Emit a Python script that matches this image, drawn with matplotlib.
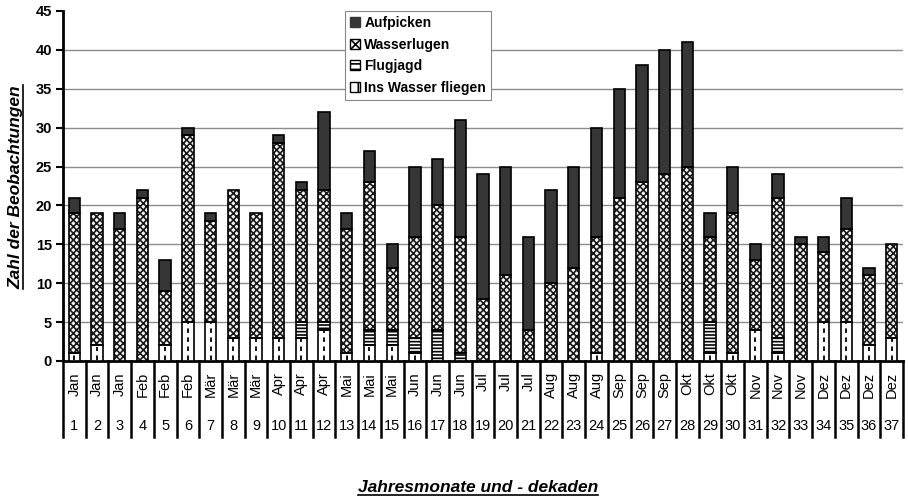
import matplotlib
matplotlib.use("Agg")
import matplotlib.pyplot as plt
import numpy as np
from matplotlib.patches import Patch
from matplotlib.lines import Line2D
from matplotlib.transforms import blended_transform_factory

plt.rcParams['font.family'] = ['Liberation Sans', 'DejaVu Sans']
plt.rcParams['hatch.linewidth'] = 1.2

months = ["Jan", "Jan", "Jan", "Feb", "Feb", "Feb", "Mär", "Mär", "Mär",
          "Apr", "Apr", "Apr", "Mai", "Mai", "Mai", "Jun", "Jun", "Jun",
          "Jul", "Jul", "Jul", "Aug", "Aug", "Aug", "Sep", "Sep", "Sep",
          "Okt", "Okt", "Okt", "Nov", "Nov", "Nov", "Dez", "Dez", "Dez", "Dez"]
dekaden = [str(i) for i in range(1, 38)]

ins_wasser = [1, 2, 0, 0, 2, 5, 5, 3, 3, 3, 3, 4, 1, 2, 2, 1, 0, 0, 0, 0, 0,
              0, 0, 1, 0, 0, 0, 0, 1, 1, 4, 1, 0, 5, 5, 2, 3]
flugjagd = [0, 0, 0, 0, 0, 0, 0, 0, 0, 0, 2, 1, 0, 2, 2, 2, 4, 1, 0, 0, 0,
            0, 0, 0, 0, 0, 0, 0, 4, 0, 0, 2, 0, 0, 0, 0, 0]
wasserlugen = [18, 17, 17, 21, 7, 24, 13, 19, 16, 25, 17, 17, 16, 19, 8, 13,
               16, 15, 8, 11, 4, 10, 12, 15, 21, 23, 24, 25, 11, 18, 9, 18,
               15, 9, 12, 9, 12]
aufpicken = [2, 0, 2, 1, 4, 1, 1, 0, 0, 1, 1, 10, 2, 4, 3, 9, 6, 15, 16, 14,
             12, 12, 13, 14, 14, 15, 16, 16, 3, 6, 2, 3, 1, 2, 4, 1, 0]

W, H = 908, 501
fig = plt.figure(figsize=(W / 100, H / 100), dpi=100)
ax = fig.add_axes([63 / W, 1 - 361 / H, 840 / W, 350 / H])

x = np.arange(len(months))
bw = 0.5
ins = np.array(ins_wasser, float)
flu = np.array(flugjagd, float)
was = np.array(wasserlugen, float)
auf = np.array(aufpicken, float)

# patterned fills (hatch colour taken from edgecolor), then black outlines
b0 = np.zeros_like(ins)
b1 = ins
b2 = ins + flu
b3 = ins + flu + was

ax.bar(x, ins, bw, bottom=b0, facecolor='white', linewidth=0, zorder=3)
ax.vlines(x, b0 + 0.15, b0 + ins - 0.15, colors='black', linewidth=1.3,
          linestyles=(0, (2.5, 2.5)), zorder=4)
ax.bar(x, flu, bw, bottom=b1, facecolor='white', hatch='-----',
       edgecolor='black', linewidth=0, zorder=3)
ax.bar(x, was, bw, bottom=b2, facecolor='#f4f4f4', hatch='xxxxx',
       edgecolor='#1a1a1a', linewidth=0, zorder=3)
ax.bar(x, auf, bw, bottom=b3, facecolor='#363636', linewidth=0, zorder=3)
for vals, bot in [(ins, b0), (flu, b1), (was, b2), (auf, b3)]:
    m = vals > 0
    ax.bar(x[m], vals[m], bw, bottom=bot[m], facecolor='none',
           edgecolor='black', linewidth=1.2, zorder=5)

ax.set_xlim(-0.5, len(months) - 0.5)
ax.set_ylim(0, 45)
for yv in range(5, 45, 5):
    ax.axhline(yv, color='#8c8c8c', linewidth=1.0, zorder=1)

for s in ['top', 'right']:
    ax.spines[s].set_visible(False)
ax.spines['left'].set_linewidth(2)
ax.spines['bottom'].set_linewidth(2)
ax.set_yticks(range(0, 46, 5))
ax.tick_params(axis='y', direction='out', length=5, width=1.5, pad=3,
               labelsize=10.5)
for lab in ax.get_yticklabels():
    lab.set_fontweight('bold')
ax.set_xticks([])

# two-level category axis below the plot
trans = blended_transform_factory(ax.transData, ax.transAxes)
sep_bottom = -(437 - 361) / 350
for k in range(len(months) + 1):
    ax.plot([k - 0.5, k - 0.5], [0, sep_bottom], color='black',
            linewidth=1.8, transform=trans, clip_on=False, zorder=6)
for i, (m, d) in enumerate(zip(months, dekaden)):
    ax.text(i, -(372 - 361) / 350, m, rotation=90, ha='center', va='top',
            fontsize=10.5, transform=trans)
    ax.text(i, -(426 - 361) / 350, d, ha='center', va='center',
            fontsize=10.5, transform=trans)

handles = [
    Patch(facecolor='#363636', edgecolor='#363636', label='Aufpicken'),
    Patch(facecolor='white', edgecolor='black', hatch='xxx', label='Wasserlugen'),
    Patch(facecolor='white', edgecolor='black', hatch='---', label='Flugjagd'),
    Patch(facecolor='white', edgecolor='black', hatch='|', label='Ins Wasser fliegen'),
]
leg = fig.legend(handles=handles, loc='upper left',
                 bbox_to_anchor=(345 / W, 1 - 11 / H),
                 bbox_transform=fig.transFigure, frameon=True, fancybox=False,
                 edgecolor='#888888', framealpha=1, borderaxespad=0,
                 borderpad=0.35, labelspacing=0.55, handlelength=0.75,
                 handleheight=0.75, handletextpad=0.3,
                 prop={'weight': 'bold', 'size': 10})
leg.get_frame().set_linewidth(0.8)
leg.set_zorder(10)

xl = fig.text(478 / W, 1 - 488 / H, 'Jahresmonate und - dekaden',
              ha='center', va='center', fontsize=12.5, fontweight='bold',
              fontstyle='italic')
yl = fig.text(16 / W, 1 - 187 / H, 'Zahl der Beobachtungen', rotation=90,
              ha='center', va='center', fontsize=12.5, fontweight='bold',
              fontstyle='italic')

# underline both axis titles
fig.canvas.draw()
r = fig.canvas.get_renderer()
bb = xl.get_window_extent(r)
fig.add_artist(Line2D([bb.x0, bb.x1], [bb.y0 + 1, bb.y0 + 1],
                      transform=None, color='black', linewidth=1.2))
bb = yl.get_window_extent(r)
fig.add_artist(Line2D([bb.x1 - 1, bb.x1 - 1], [bb.y0, bb.y1],
                      transform=None, color='black', linewidth=1.2))

fig.savefig('out.png', dpi=100)
